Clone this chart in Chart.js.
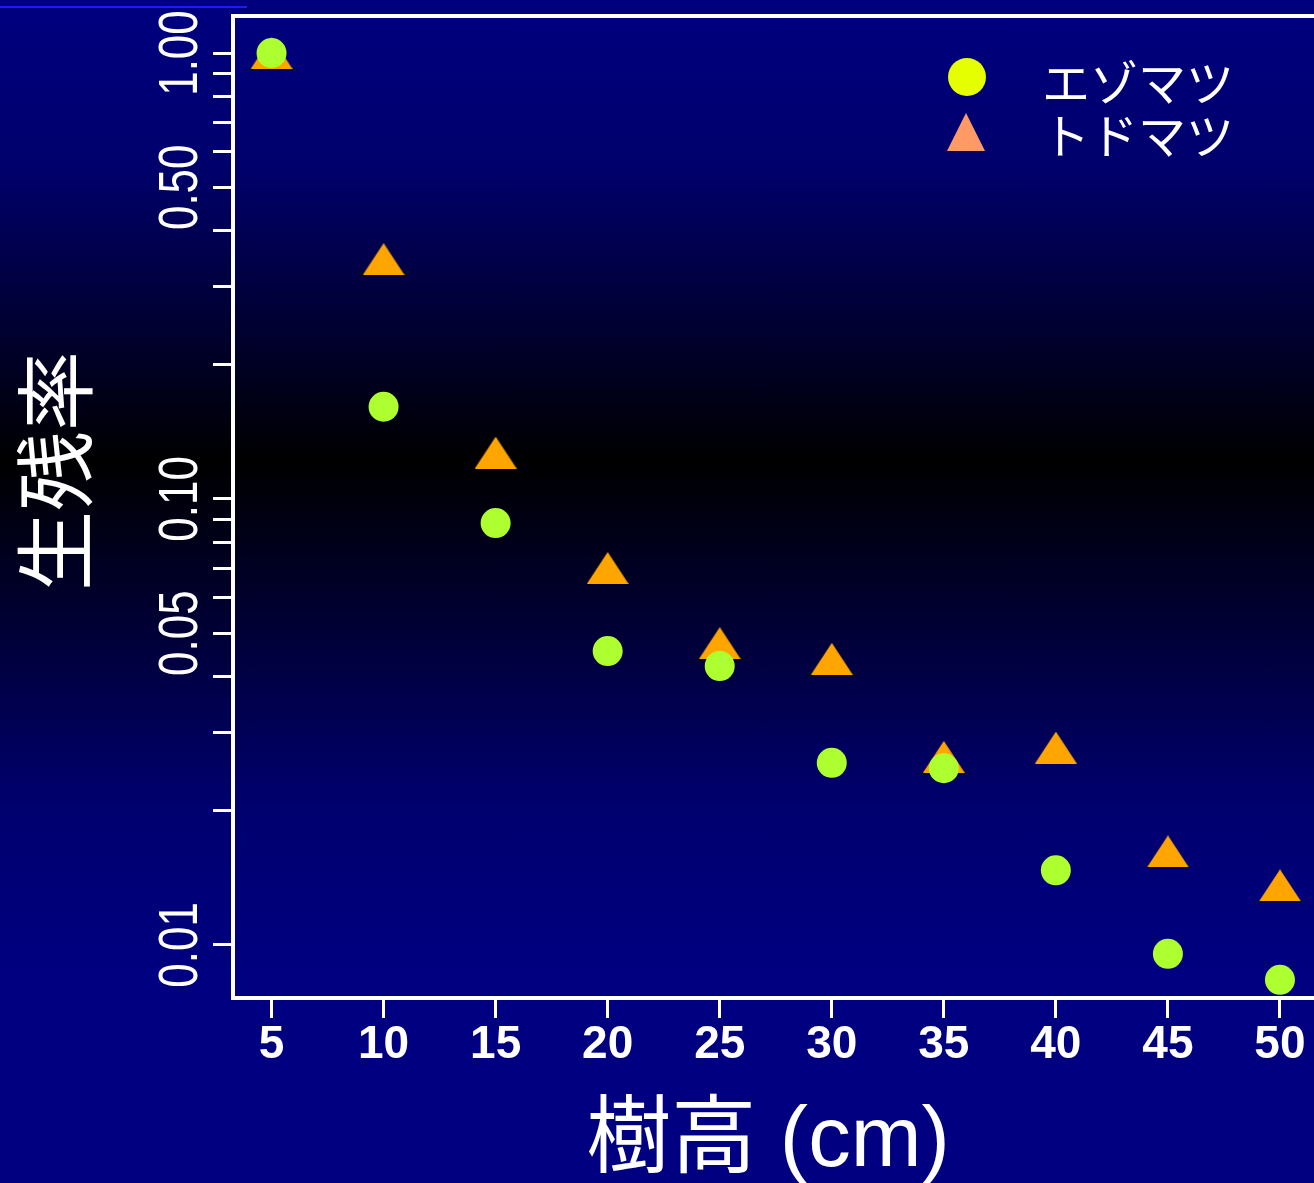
<!DOCTYPE html>
<html lang="ja">
<head>
<meta charset="utf-8">
<title>生残率</title>
<script src="https://cdn.jsdelivr.net/npm/chart.js@4.4.1/dist/chart.umd.min.js"></script>
<style>
  html, body { margin: 0; padding: 0; }
  body {
    width: 1314px; height: 1183px; overflow: hidden;
    background: linear-gradient(to bottom, #000080 0%, #00006c 14%, #000000 39%, #00006e 68%, #000080 82%, #000080 100%);
  }
  canvas { display: block; }
</style>
</head>
<body>
<canvas id="myChart" width="1314" height="1183"></canvas>
<script>
// 樹高 (cm)
var heights = [5, 10, 15, 20, 25, 30, 35, 40, 45, 50];
// 生残率
var ezomatsu = [1.0, 0.161, 0.0883, 0.0456, 0.0422, 0.0256, 0.0249, 0.0147, 0.00955, 0.00835];
var todomatsu = [1.0, 0.345, 0.127, 0.070, 0.0475, 0.0438, 0.0264, 0.0277, 0.0162, 0.0136];
var seriesNames = ['エゾマツ', 'トドマツ'];
// 目盛り
var yTickLabels = [1, 0.5, 0.1, 0.05, 0.01];
var yTickMarks = [0.01, 0.02, 0.03, 0.04, 0.05, 0.06, 0.07, 0.08, 0.09,
                  0.1, 0.2, 0.3, 0.4, 0.5, 0.6, 0.7, 0.8, 0.9, 1];

var fontLatin = '"Liberation Sans", Arial, sans-serif';
var fontJa = '"Liberation Sans", "Noto Sans CJK JP", sans-serif';

// triangle marker (a bit wider than equilateral, like the original)
var tri = document.createElement('canvas');
tri.width = 42;
tri.height = 32;
var tctx = tri.getContext('2d');
tctx.fillStyle = '#ffa500';
tctx.beginPath();
tctx.moveTo(21, 0);
tctx.lineTo(42, 32);
tctx.lineTo(0, 32);
tctx.closePath();
tctx.fill();

function toPoints(ys) {
    return heights.map(function(h, i) { return { x: h, y: ys[i] }; });
}

// axis box top line, rotated y labels, titles and legend
var extras = {
    id: 'extras',
    afterDraw: function(chart) {
        var ctx = chart.ctx;
        var area = chart.chartArea;
        var yScale = chart.scales.y;
        ctx.save();

        // small stray line top left
        ctx.fillStyle = '#1c1cf0';
        ctx.fillRect(0, 6, 247, 2);

        // top border
        ctx.strokeStyle = '#ffffff';
        ctx.lineWidth = 4;
        ctx.beginPath();
        ctx.moveTo(area.left - 2, area.top);
        ctx.lineTo(chart.width, area.top);
        ctx.stroke();

        // y tick labels (rotated)
        ctx.fillStyle = '#ffffff';
        ctx.font = '44px ' + fontLatin;
        ctx.textAlign = 'center';
        ctx.textBaseline = 'alphabetic';
        yTickLabels.forEach(function(v) {
            var py = yScale.getPixelForValue(v);
            ctx.save();
            ctx.translate(197, py);
            ctx.rotate(-Math.PI / 2);
            ctx.scale(1, 1.27);
            ctx.fillText(v.toFixed(2), 0, 0);
            ctx.restore();
        });

        // y title
        ctx.save();
        ctx.font = '80px ' + fontJa;
        ctx.translate(85, 471);
        ctx.rotate(-Math.PI / 2);
        ctx.fillText('生残率', 0, 0);
        ctx.restore();

        // x title
        ctx.font = '85px ' + fontJa;
        ctx.textAlign = 'center';
        ctx.fillText('樹高 (cm)', 768, 1166);

        // legend
        ctx.fillStyle = '#e5ff00';
        ctx.beginPath();
        ctx.arc(967, 77, 19, 0, Math.PI * 2);
        ctx.fill();
        ctx.fillStyle = '#ff9966';
        ctx.beginPath();
        ctx.moveTo(966, 113);
        ctx.lineTo(985, 151);
        ctx.lineTo(947, 151);
        ctx.closePath();
        ctx.fill();
        ctx.fillStyle = '#ffffff';
        ctx.font = '48px ' + fontJa;
        ctx.textAlign = 'left';
        ctx.fillText(seriesNames[0], 1042, 101);
        ctx.fillText(seriesNames[1], 1042, 154);

        ctx.restore();
    }
};

var ctx = document.getElementById('myChart').getContext('2d');
var myChart = new Chart(ctx, {
    type: 'scatter',
    data: {
        datasets: [{
            label: seriesNames[0],
            data: toPoints(ezomatsu),
            pointStyle: 'circle',
            pointRadius: 15,
            pointHoverRadius: 15,
            backgroundColor: '#adff2f',
            borderWidth: 0
        }, {
            label: seriesNames[1],
            data: toPoints(todomatsu),
            pointStyle: tri,
            pointRadius: 16,
            backgroundColor: '#ffa500',
            borderWidth: 0
        }]
    },
    options: {
        responsive: false,
        animation: false,
        devicePixelRatio: 1,
        layout: {
            autoPadding: false,
            padding: { left: 213, top: 16, right: 0, bottom: 105 }
        },
        plugins: {
            legend: { display: false },
            tooltip: { enabled: false }
        },
        scales: {
            x: {
                type: 'linear',
                min: 3.28,
                max: 51.52,
                afterBuildTicks: function(scale) {
                    scale.ticks = heights.map(function(v) { return { value: v }; });
                },
                afterFit: function(scale) {
                    scale.height = 80;
                    scale.paddingLeft = 0;
                    scale.paddingRight = 0;
                },
                grid: { drawOnChartArea: false, drawTicks: true, tickLength: 20, color: '#ffffff', lineWidth: 3 },
                border: { display: true, color: '#ffffff', width: 4 },
                ticks: {
                    color: '#ffffff',
                    font: { family: fontLatin, size: 46, weight: 'bold' },
                    padding: 0,
                    maxRotation: 0,
                    autoSkip: false
                }
            },
            y: {
                type: 'logarithmic',
                min: 0.007603,
                max: 1.2106,
                afterBuildTicks: function(scale) {
                    scale.ticks = yTickMarks.map(function(v) { return { value: v }; });
                },
                afterFit: function(scale) {
                    scale.width = 20;
                    scale.paddingTop = 0;
                    scale.paddingBottom = 0;
                },
                grid: { drawOnChartArea: false, drawTicks: true, tickLength: 20, color: '#ffffff', lineWidth: 3 },
                border: { display: true, color: '#ffffff', width: 4 },
                ticks: { display: false }
            }
        }
    },
    plugins: [extras]
});
</script>
</body>
</html>
